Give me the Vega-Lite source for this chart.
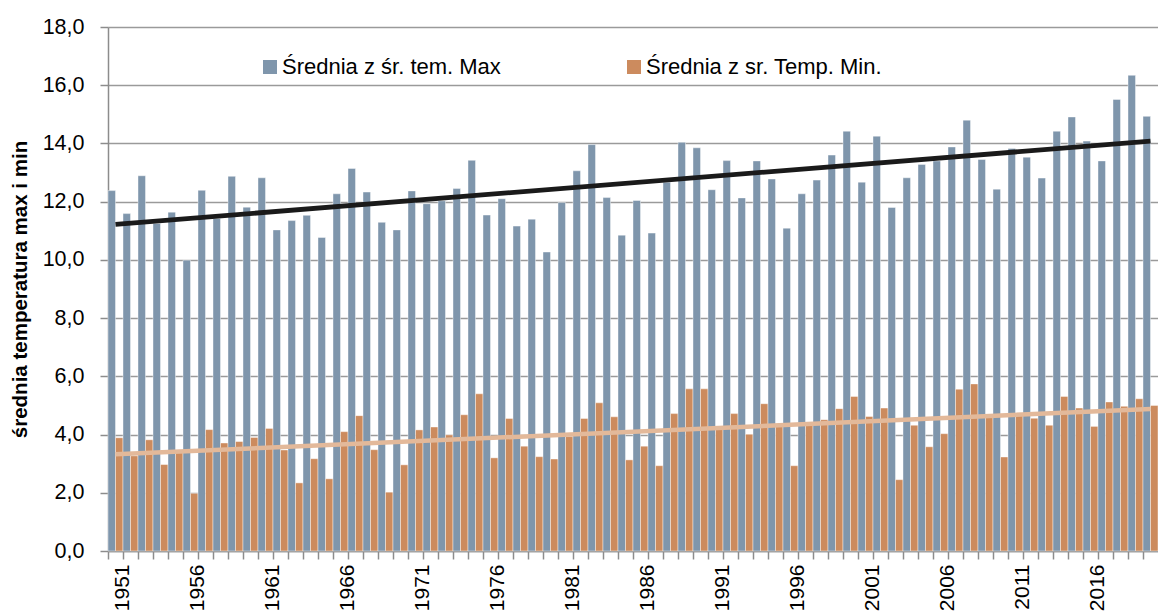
{
  "$schema": "https://vega.github.io/schema/vega-lite/v6.json",
  "width": 1050,
  "height": 524,
  "autosize": {"type": "none"},
  "padding": {"left": 108, "top": 27, "right": 0, "bottom": 61},
  "background": "white",
  "config": {"font": "Liberation Sans", "view": {"stroke": null}},
  "datasets": {
    "temps": [
      {"year": 1951, "max": 12.38, "min": 3.89},
      {"year": 1952, "max": 11.59, "min": 3.27},
      {"year": 1953, "max": 12.89, "min": 3.82},
      {"year": 1954, "max": 11.25, "min": 2.97},
      {"year": 1955, "max": 11.64, "min": 3.43},
      {"year": 1956, "max": 9.99, "min": 1.98},
      {"year": 1957, "max": 12.39, "min": 4.17},
      {"year": 1958, "max": 11.42, "min": 3.71},
      {"year": 1959, "max": 12.87, "min": 3.76},
      {"year": 1960, "max": 11.81, "min": 3.9},
      {"year": 1961, "max": 12.82, "min": 4.21},
      {"year": 1962, "max": 11.03, "min": 3.47},
      {"year": 1963, "max": 11.35, "min": 2.34},
      {"year": 1964, "max": 11.53, "min": 3.17},
      {"year": 1965, "max": 10.77, "min": 2.48},
      {"year": 1966, "max": 12.27, "min": 4.1},
      {"year": 1967, "max": 13.14, "min": 4.65},
      {"year": 1968, "max": 12.33, "min": 3.48},
      {"year": 1969, "max": 11.29, "min": 2.02},
      {"year": 1970, "max": 11.03, "min": 2.96},
      {"year": 1971, "max": 12.37, "min": 4.16},
      {"year": 1972, "max": 11.93, "min": 4.26},
      {"year": 1973, "max": 12.03, "min": 3.99},
      {"year": 1974, "max": 12.45, "min": 4.68},
      {"year": 1975, "max": 13.42, "min": 5.4},
      {"year": 1976, "max": 11.54, "min": 3.2},
      {"year": 1977, "max": 12.1, "min": 4.55},
      {"year": 1978, "max": 11.16, "min": 3.6},
      {"year": 1979, "max": 11.4, "min": 3.24},
      {"year": 1980, "max": 10.27, "min": 3.16},
      {"year": 1981, "max": 11.97, "min": 3.93},
      {"year": 1982, "max": 13.06, "min": 4.55},
      {"year": 1983, "max": 13.96, "min": 5.09},
      {"year": 1984, "max": 12.14, "min": 4.61},
      {"year": 1985, "max": 10.85, "min": 3.13},
      {"year": 1986, "max": 12.04, "min": 3.6},
      {"year": 1987, "max": 10.92, "min": 2.93},
      {"year": 1988, "max": 12.67, "min": 4.72},
      {"year": 1989, "max": 14.04, "min": 5.57},
      {"year": 1990, "max": 13.85, "min": 5.57},
      {"year": 1991, "max": 12.41, "min": 4.22},
      {"year": 1992, "max": 13.41, "min": 4.72},
      {"year": 1993, "max": 12.13, "min": 4.01},
      {"year": 1994, "max": 13.4, "min": 5.06},
      {"year": 1995, "max": 12.78, "min": 4.35},
      {"year": 1996, "max": 11.09, "min": 2.93},
      {"year": 1997, "max": 12.27, "min": 4.38},
      {"year": 1998, "max": 12.74, "min": 4.51},
      {"year": 1999, "max": 13.6, "min": 4.89},
      {"year": 2000, "max": 14.42, "min": 5.31},
      {"year": 2001, "max": 12.67, "min": 4.62},
      {"year": 2002, "max": 14.25, "min": 4.91},
      {"year": 2003, "max": 11.8, "min": 2.45},
      {"year": 2004, "max": 12.82, "min": 4.32},
      {"year": 2005, "max": 13.28, "min": 3.58},
      {"year": 2006, "max": 13.4, "min": 4.03},
      {"year": 2007, "max": 13.88, "min": 5.56},
      {"year": 2008, "max": 14.8, "min": 5.74},
      {"year": 2009, "max": 13.45, "min": 4.62},
      {"year": 2010, "max": 12.43, "min": 3.23},
      {"year": 2011, "max": 13.83, "min": 4.7},
      {"year": 2012, "max": 13.53, "min": 4.56},
      {"year": 2013, "max": 12.81, "min": 4.32},
      {"year": 2014, "max": 14.42, "min": 5.31},
      {"year": 2015, "max": 14.91, "min": 4.91},
      {"year": 2016, "max": 14.08, "min": 4.28},
      {"year": 2017, "max": 13.4, "min": 5.12},
      {"year": 2018, "max": 15.51, "min": 4.97},
      {"year": 2019, "max": 16.34, "min": 5.23},
      {"year": 2020, "max": 14.93, "min": 5.0}
    ],
    "trend": [
      {"year": 1951, "tmax": 11.22, "tmin": 3.32},
      {"year": 2020, "tmax": 14.08, "tmin": 4.88}
    ]
  },
  "layer": [
    {
      "data": {"name": "temps"},
      "transform": [{"fold": ["max", "min"], "as": ["series", "value"]}],
      "mark": {"type": "bar", "stroke": "#ffffff", "strokeWidth": 0.6, "strokeOpacity": 0.7},
      "encoding": {
        "x": {
          "field": "year",
          "type": "ordinal",
          "title": null,
          "scale": {"paddingInner": 0, "paddingOuter": 0},
          "axis": {
            "bandPosition": 0,
            "labelOffset": 7.5,
            "labelAngle": -90,
            "labelExpr": "(datum.value - 1951) % 5 == 0 ? datum.value : ''",
            "labelFontSize": 21,
            "labelColor": "#000000",
            "labelPadding": 5,
            "tickSize": 8,
            "tickColor": "#8c8c8c",
            "tickWidth": 1.5,
            "domainColor": "#8c8c8c",
            "domainWidth": 1.5,
            "grid": false
          }
        },
        "xOffset": {
          "field": "series",
          "type": "nominal",
          "scale": {"domain": ["max", "min"], "paddingInner": 0, "paddingOuter": 0}
        },
        "y": {
          "field": "value",
          "type": "quantitative",
          "title": "średnia temperatura max i min",
          "scale": {"domain": [0, 18], "nice": false},
          "axis": {
            "values": [0, 2, 4, 6, 8, 10, 12, 14, 16, 18],
            "labelExpr": "replace(format(datum.value, '.1f'), '.', ',')",
            "labelFontSize": 21.5,
            "labelColor": "#000000",
            "labelPadding": 16,
            "tickSize": 8,
            "tickColor": "#8c8c8c",
            "tickWidth": 1.5,
            "domainColor": "#8c8c8c",
            "domainWidth": 1.5,
            "gridColor": "#9a9a9a",
            "gridWidth": 1.5,
            "titleFontSize": 20.5,
            "titleFontWeight": "bold",
            "titleColor": "#000000",
            "titlePadding": 12
          }
        },
        "color": {
          "field": "series",
          "type": "nominal",
          "scale": {"domain": ["max", "min"], "range": ["#7F96AC", "#CC8B5E"]},
          "legend": {
            "orient": "none",
            "legendX": 151,
            "legendY": 29,
            "direction": "horizontal",
            "columns": 2,
            "columnPadding": 122,
            "padding": 0,
            "title": null,
            "symbolType": "square",
            "symbolSize": 196,
            "symbolStrokeWidth": 0,
            "labelFontSize": 22,
            "labelColor": "#000000",
            "labelOffset": 1,
            "labelLimit": 400,
            "labelExpr": "datum.value == 'max' ? 'Średnia z śr. tem. Max' : 'Średnia z sr. Temp. Min.'"
          }
        }
      }
    },
    {
      "data": {"name": "trend"},
      "mark": {"type": "line", "color": "#E3B99A", "strokeWidth": 4.5},
      "encoding": {
        "x": {"field": "year", "type": "ordinal", "title": null},
        "y": {"field": "tmin", "type": "quantitative", "title": "średnia temperatura max i min"}
      }
    },
    {
      "data": {"name": "trend"},
      "mark": {"type": "line", "color": "#1a1a1a", "strokeWidth": 4.8},
      "encoding": {
        "x": {"field": "year", "type": "ordinal", "title": null},
        "y": {"field": "tmax", "type": "quantitative", "title": "średnia temperatura max i min"}
      }
    }
  ]
}
